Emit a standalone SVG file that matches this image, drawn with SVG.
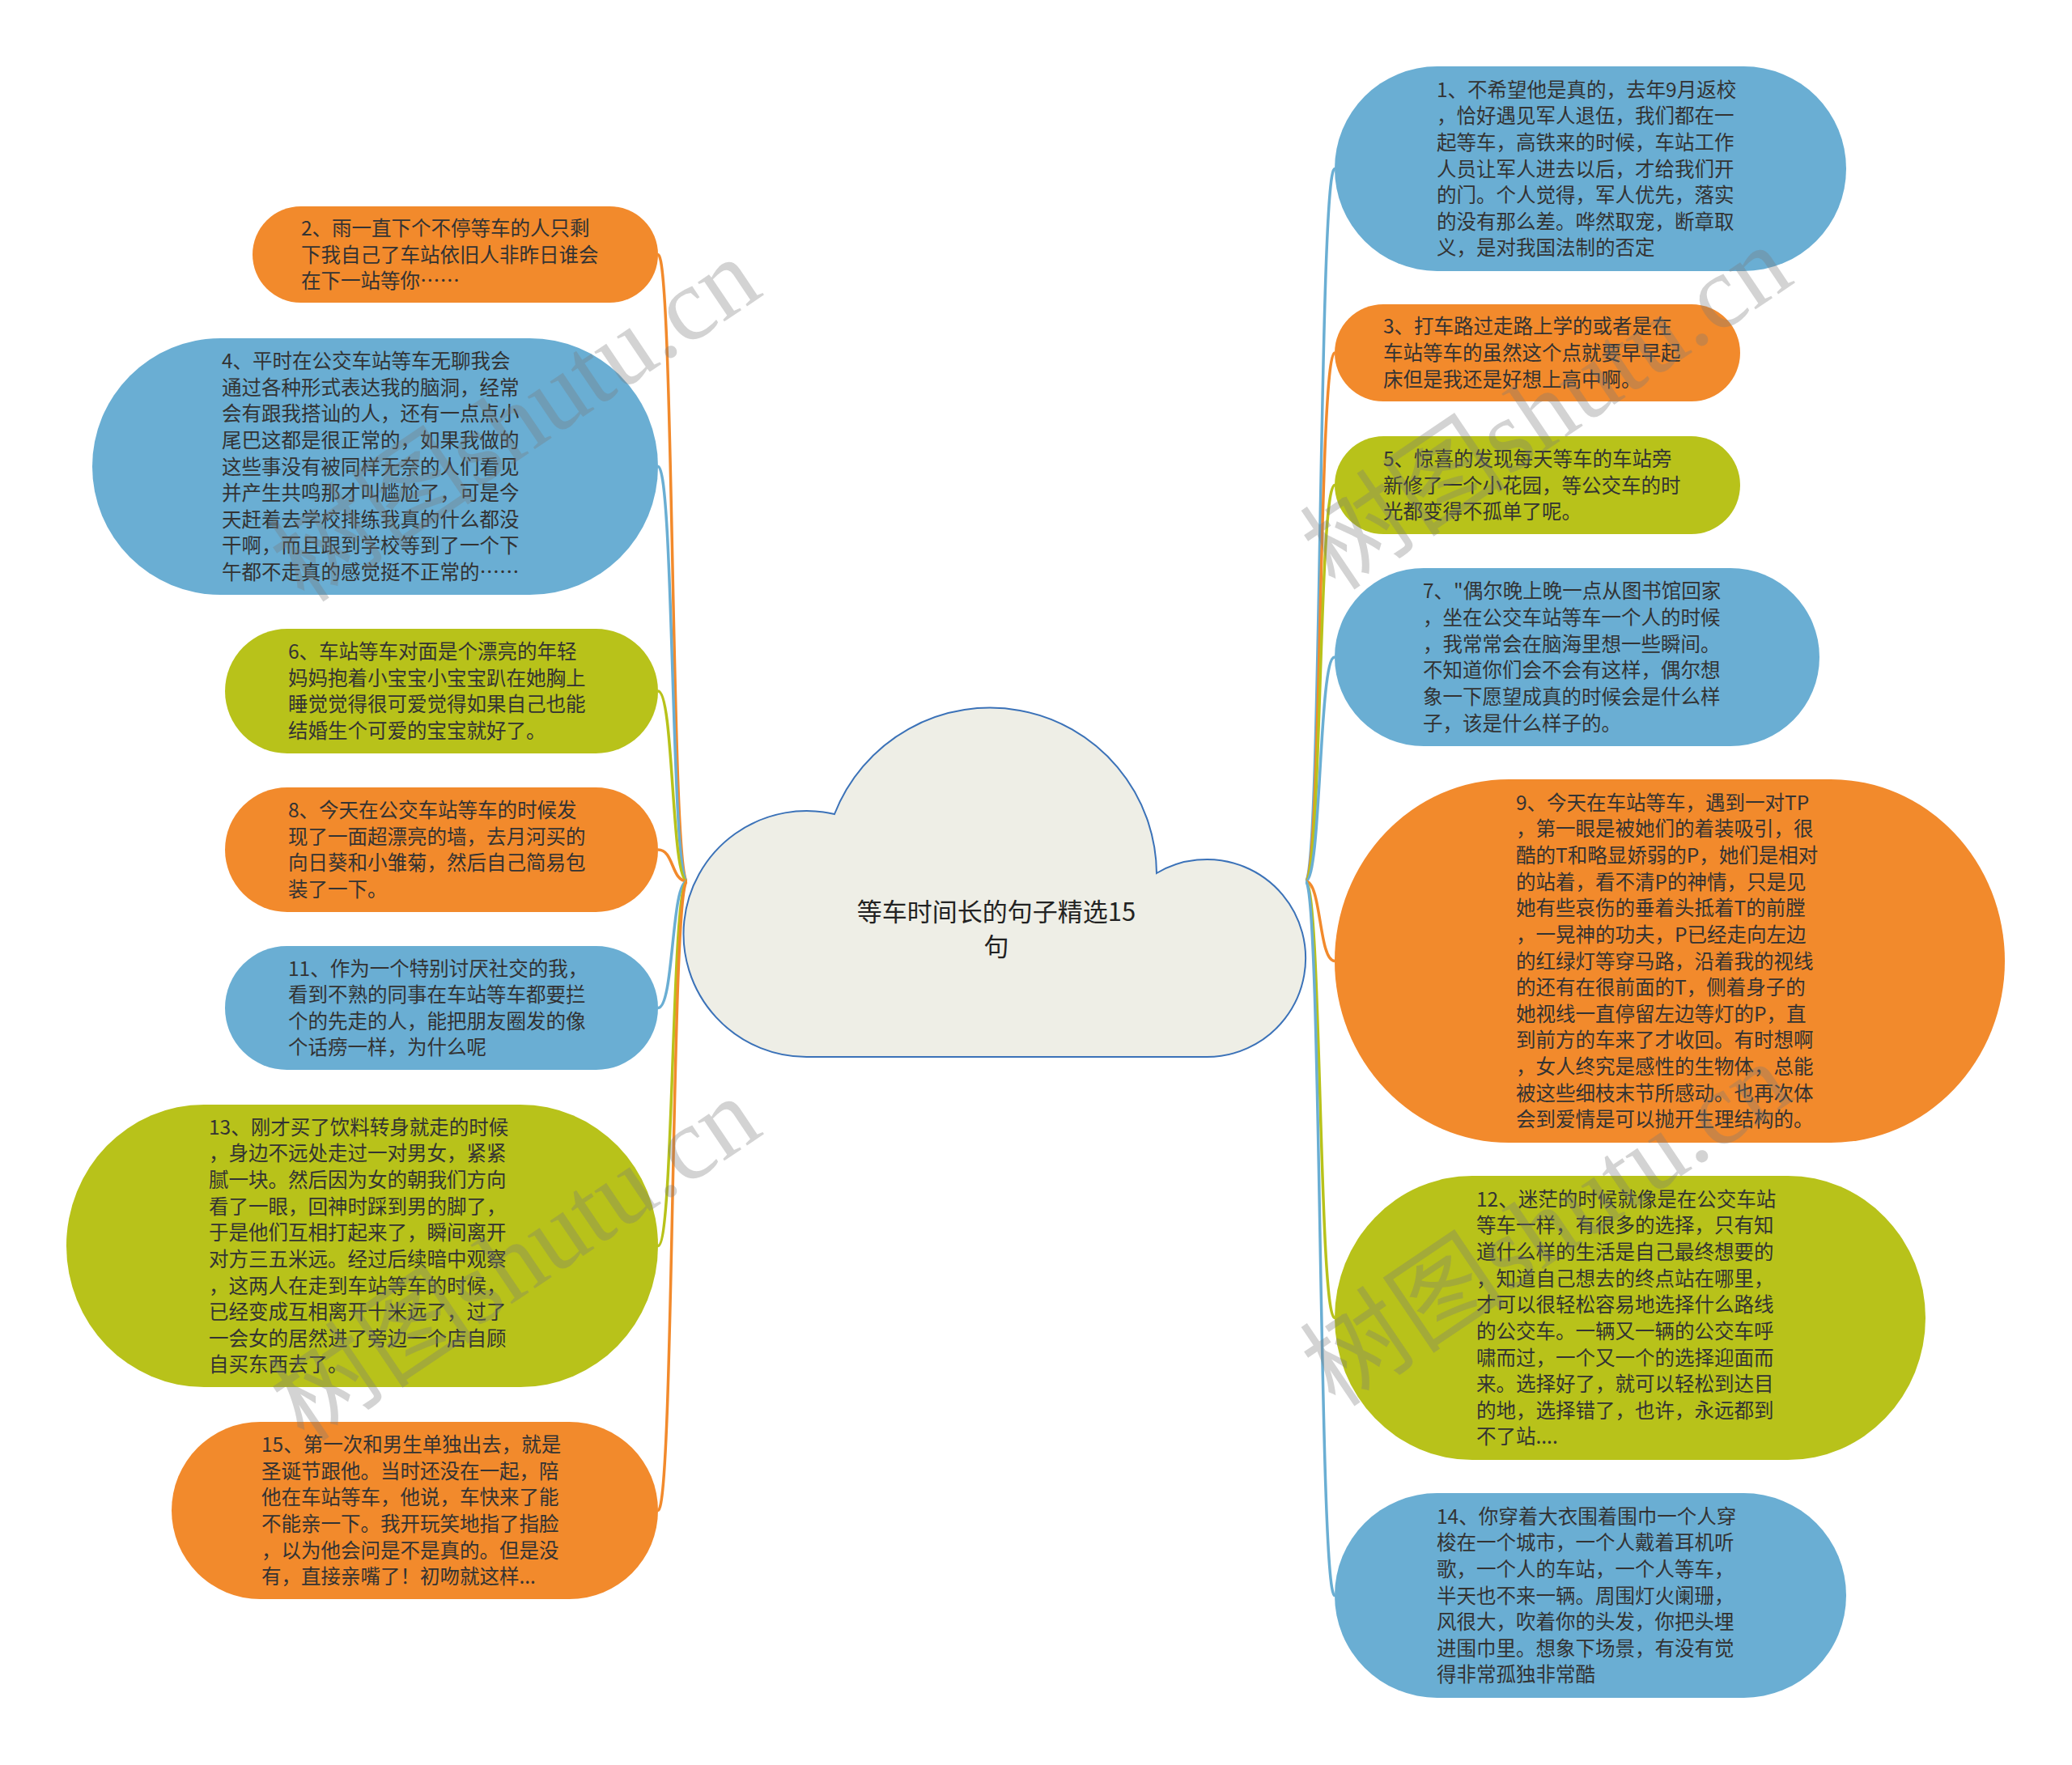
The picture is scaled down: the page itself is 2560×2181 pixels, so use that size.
<svg xmlns="http://www.w3.org/2000/svg" width="2560" height="2181" viewBox="0 0 2560 2181">
<style>
.t{font-family:"Noto Sans CJK SC","Liberation Sans",sans-serif;font-size:24.5px;fill:#333333}
.ct{font-family:"Noto Sans CJK SC","Liberation Sans",sans-serif;font-size:31px;fill:#222222;text-anchor:middle}
.blue{fill:#6aaed3}
.orange{fill:#f28a2c}
.green{fill:#b8c21a}
.c{fill:none;stroke-width:3.5}
.cb{stroke:#6aaed3}
.co{stroke:#f28a2c}
.cg{stroke:#b8c21a}
.wm{font-family:"Liberation Serif","Noto Sans CJK SC",serif;font-size:128px;fill:#7a7a7a;fill-opacity:0.33}
</style>
<rect width="2560" height="2181" fill="#ffffff"/>
<g id="connectors">
<path class="c co" d="M849 1089 C829 1089 833 314.5 813 314.5"/>
<path class="c cb" d="M849 1089 C829 1089 833 576.5 813 576.5"/>
<path class="c cg" d="M849 1089 C829 1089 833 854 813 854"/>
<path class="c co" d="M849 1089 C829 1089 833 1050 813 1050"/>
<path class="c cb" d="M849 1089 C829 1089 833 1245.5 813 1245.5"/>
<path class="c cg" d="M849 1089 C829 1089 833 1539.5 813 1539.5"/>
<path class="c co" d="M849 1089 C829 1089 833 1866.5 813 1866.5"/>
<path class="c cb" d="M1613 1089 C1633 1089 1629 208.5 1649 208.5"/>
<path class="c co" d="M1613 1089 C1633 1089 1629 436 1649 436"/>
<path class="c cg" d="M1613 1089 C1633 1089 1629 599.5 1649 599.5"/>
<path class="c cb" d="M1613 1089 C1633 1089 1629 812 1649 812"/>
<path class="c co" d="M1613 1089 C1633 1089 1629 1187.5 1649 1187.5"/>
<path class="c cg" d="M1613 1089 C1633 1089 1629 1628.5 1649 1628.5"/>
<path class="c cb" d="M1613 1089 C1633 1089 1629 1971.5 1649 1971.5"/>
</g>
<g id="center">
<path d="M1000 1306 A152 152 0 1 1 1031 1006 A206 206 0 0 1 1429 1079 A122 122 0 1 1 1490 1306 Z" fill="#eeeee6" stroke="#3b72b8" stroke-width="2"/>
<text class="ct" x="1231" y="1138.4">等车时间长的句子精选15</text>
<text class="ct" x="1231" y="1181">句</text>
</g>
<g id="n2">
<rect class="orange" x="312" y="255" width="501" height="119" rx="59.5"/>
<text class="t" x="372" y="290.85"><tspan x="372">2、雨一直下个不停等车的人只剩</tspan><tspan x="372" dy="32.65">下我自己了车站依旧人非昨日谁会</tspan><tspan x="372" dy="32.65">在下一站等你……</tspan></text>
</g>
<g id="n4">
<rect class="blue" x="114" y="418" width="699" height="317" rx="158.5"/>
<text class="t" x="274" y="454.9"><tspan x="274">4、平时在公交车站等车无聊我会</tspan><tspan x="274" dy="32.65">通过各种形式表达我的脑洞，经常</tspan><tspan x="274" dy="32.65">会有跟我搭讪的人，还有一点点小</tspan><tspan x="274" dy="32.65">尾巴这都是很正常的，如果我做的</tspan><tspan x="274" dy="32.65">这些事没有被同样无奈的人们看见</tspan><tspan x="274" dy="32.65">并产生共鸣那才叫尴尬了，可是今</tspan><tspan x="274" dy="32.65">天赶着去学校排练我真的什么都没</tspan><tspan x="274" dy="32.65">干啊，而且跟到学校等到了一个下</tspan><tspan x="274" dy="32.65">午都不走真的感觉挺不正常的……</tspan></text>
</g>
<g id="n6">
<rect class="green" x="278" y="777" width="535" height="154" rx="77"/>
<text class="t" x="356" y="814"><tspan x="356">6、车站等车对面是个漂亮的年轻</tspan><tspan x="356" dy="32.65">妈妈抱着小宝宝小宝宝趴在她胸上</tspan><tspan x="356" dy="32.65">睡觉觉得很可爱觉得如果自己也能</tspan><tspan x="356" dy="32.65">结婚生个可爱的宝宝就好了。</tspan></text>
</g>
<g id="n8">
<rect class="orange" x="278" y="973" width="535" height="154" rx="77"/>
<text class="t" x="356" y="1010"><tspan x="356">8、今天在公交车站等车的时候发</tspan><tspan x="356" dy="32.65">现了一面超漂亮的墙，去月河买的</tspan><tspan x="356" dy="32.65">向日葵和小雏菊，然后自己简易包</tspan><tspan x="356" dy="32.65">装了一下。</tspan></text>
</g>
<g id="n11">
<rect class="blue" x="278" y="1169" width="535" height="153" rx="76.5"/>
<text class="t" x="356" y="1205.5"><tspan x="356">11、作为一个特别讨厌社交的我，</tspan><tspan x="356" dy="32.65">看到不熟的同事在车站等车都要拦</tspan><tspan x="356" dy="32.65">个的先走的人，能把朋友圈发的像</tspan><tspan x="356" dy="32.65">个话痨一样，为什么呢</tspan></text>
</g>
<g id="n13">
<rect class="green" x="82" y="1365" width="731" height="349" rx="170" ry="174.5"/>
<text class="t" x="258" y="1401.6"><tspan x="258">13、刚才买了饮料转身就走的时候</tspan><tspan x="258" dy="32.65">，身边不远处走过一对男女，紧紧</tspan><tspan x="258" dy="32.65">腻一块。然后因为女的朝我们方向</tspan><tspan x="258" dy="32.65">看了一眼，回神时踩到男的脚了，</tspan><tspan x="258" dy="32.65">于是他们互相打起来了，瞬间离开</tspan><tspan x="258" dy="32.65">对方三五米远。经过后续暗中观察</tspan><tspan x="258" dy="32.65">，这两人在走到车站等车的时候，</tspan><tspan x="258" dy="32.65">已经变成互相离开十米远了，过了</tspan><tspan x="258" dy="32.65">一会女的居然进了旁边一个店自顾</tspan><tspan x="258" dy="32.65">自买东西去了。</tspan></text>
</g>
<g id="n15">
<rect class="orange" x="212" y="1757" width="601" height="219" rx="109.5"/>
<text class="t" x="323" y="1793.9"><tspan x="323">15、第一次和男生单独出去，就是</tspan><tspan x="323" dy="32.65">圣诞节跟他。当时还没在一起，陪</tspan><tspan x="323" dy="32.65">他在车站等车，他说，车快来了能</tspan><tspan x="323" dy="32.65">不能亲一下。我开玩笑地指了指脸</tspan><tspan x="323" dy="32.65">，以为他会问是不是真的。但是没</tspan><tspan x="323" dy="32.65">有，直接亲嘴了！初吻就这样...</tspan></text>
</g>
<g id="n1">
<rect class="blue" x="1649" y="82" width="632" height="253" rx="126.5"/>
<text class="t" x="1775" y="119.55"><tspan x="1775">1、不希望他是真的，去年9月返校</tspan><tspan x="1775" dy="32.65">，恰好遇见军人退伍，我们都在一</tspan><tspan x="1775" dy="32.65">起等车，高铁来的时候，车站工作</tspan><tspan x="1775" dy="32.65">人员让军人进去以后，才给我们开</tspan><tspan x="1775" dy="32.65">的门。个人觉得，军人优先，落实</tspan><tspan x="1775" dy="32.65">的没有那么差。哗然取宠，断章取</tspan><tspan x="1775" dy="32.65">义，是对我国法制的否定</tspan></text>
</g>
<g id="n3">
<rect class="orange" x="1649" y="376" width="501" height="120" rx="60"/>
<text class="t" x="1709" y="412.35"><tspan x="1709">3、打车路过走路上学的或者是在</tspan><tspan x="1709" dy="32.65">车站等车的虽然这个点就要早早起</tspan><tspan x="1709" dy="32.65">床但是我还是好想上高中啊。</tspan></text>
</g>
<g id="n5">
<rect class="green" x="1649" y="539" width="501" height="121" rx="60.5"/>
<text class="t" x="1709" y="575.85"><tspan x="1709">5、惊喜的发现每天等车的车站旁</tspan><tspan x="1709" dy="32.65">新修了一个小花园，等公交车的时</tspan><tspan x="1709" dy="32.65">光都变得不孤单了呢。</tspan></text>
</g>
<g id="n7">
<rect class="blue" x="1649" y="702" width="599" height="220" rx="110"/>
<text class="t" x="1758" y="739.4"><tspan x="1758">7、"偶尔晚上晚一点从图书馆回家</tspan><tspan x="1758" dy="32.65">，坐在公交车站等车一个人的时候</tspan><tspan x="1758" dy="32.65">，我常常会在脑海里想一些瞬间。</tspan><tspan x="1758" dy="32.65">不知道你们会不会有这样，偶尔想</tspan><tspan x="1758" dy="32.65">象一下愿望成真的时候会是什么样</tspan><tspan x="1758" dy="32.65">子，该是什么样子的。</tspan></text>
</g>
<g id="n9">
<rect class="orange" x="1649" y="963" width="828" height="449" rx="215" ry="224.5"/>
<text class="t" x="1873" y="1000.6"><tspan x="1873">9、今天在车站等车，遇到一对TP</tspan><tspan x="1873" dy="32.65">，第一眼是被她们的着装吸引，很</tspan><tspan x="1873" dy="32.65">酷的T和略显娇弱的P，她们是相对</tspan><tspan x="1873" dy="32.65">的站着，看不清P的神情，只是见</tspan><tspan x="1873" dy="32.65">她有些哀伤的垂着头抵着T的前膛</tspan><tspan x="1873" dy="32.65">，一晃神的功夫，P已经走向左边</tspan><tspan x="1873" dy="32.65">的红绿灯等穿马路，沿着我的视线</tspan><tspan x="1873" dy="32.65">的还有在很前面的T，侧着身子的</tspan><tspan x="1873" dy="32.65">她视线一直停留左边等灯的P，直</tspan><tspan x="1873" dy="32.65">到前方的车来了才收回。有时想啊</tspan><tspan x="1873" dy="32.65">，女人终究是感性的生物体，总能</tspan><tspan x="1873" dy="32.65">被这些细枝末节所感动。也再次体</tspan><tspan x="1873" dy="32.65">会到爱情是可以抛开生理结构的。</tspan></text>
</g>
<g id="n12">
<rect class="green" x="1649" y="1453" width="730" height="351" rx="170" ry="175.5"/>
<text class="t" x="1824" y="1490.6"><tspan x="1824">12、迷茫的时候就像是在公交车站</tspan><tspan x="1824" dy="32.65">等车一样，有很多的选择，只有知</tspan><tspan x="1824" dy="32.65">道什么样的生活是自己最终想要的</tspan><tspan x="1824" dy="32.65">，知道自己想去的终点站在哪里，</tspan><tspan x="1824" dy="32.65">才可以很轻松容易地选择什么路线</tspan><tspan x="1824" dy="32.65">的公交车。一辆又一辆的公交车呼</tspan><tspan x="1824" dy="32.65">啸而过，一个又一个的选择迎面而</tspan><tspan x="1824" dy="32.65">来。选择好了，就可以轻松到达目</tspan><tspan x="1824" dy="32.65">的地，选择错了，也许，永远都到</tspan><tspan x="1824" dy="32.65">不了站....</tspan></text>
</g>
<g id="n14">
<rect class="blue" x="1649" y="1845" width="632" height="253" rx="126.5"/>
<text class="t" x="1775" y="1882.55"><tspan x="1775">14、你穿着大衣围着围巾一个人穿</tspan><tspan x="1775" dy="32.65">梭在一个城市，一个人戴着耳机听</tspan><tspan x="1775" dy="32.65">歌，一个人的车站，一个人等车，</tspan><tspan x="1775" dy="32.65">半天也不来一辆。周围灯火阑珊，</tspan><tspan x="1775" dy="32.65">风很大，吹着你的头发，你把头埋</tspan><tspan x="1775" dy="32.65">进围巾里。想象下场景，有没有觉</tspan><tspan x="1775" dy="32.65">得非常孤独非常酷</tspan></text>
</g>
<g id="watermarks">
<text class="wm" text-anchor="middle" transform="translate(661 555) rotate(-34)">树图shutu.cn</text>
<text class="wm" text-anchor="middle" transform="translate(661 1592) rotate(-34)">树图shutu.cn</text>
<text class="wm" text-anchor="middle" transform="translate(1935 540) rotate(-34)">树图shutu.cn</text>
<text class="wm" text-anchor="middle" transform="translate(1935 1549) rotate(-34)">树图shutu.cn</text>
</g>
</svg>
